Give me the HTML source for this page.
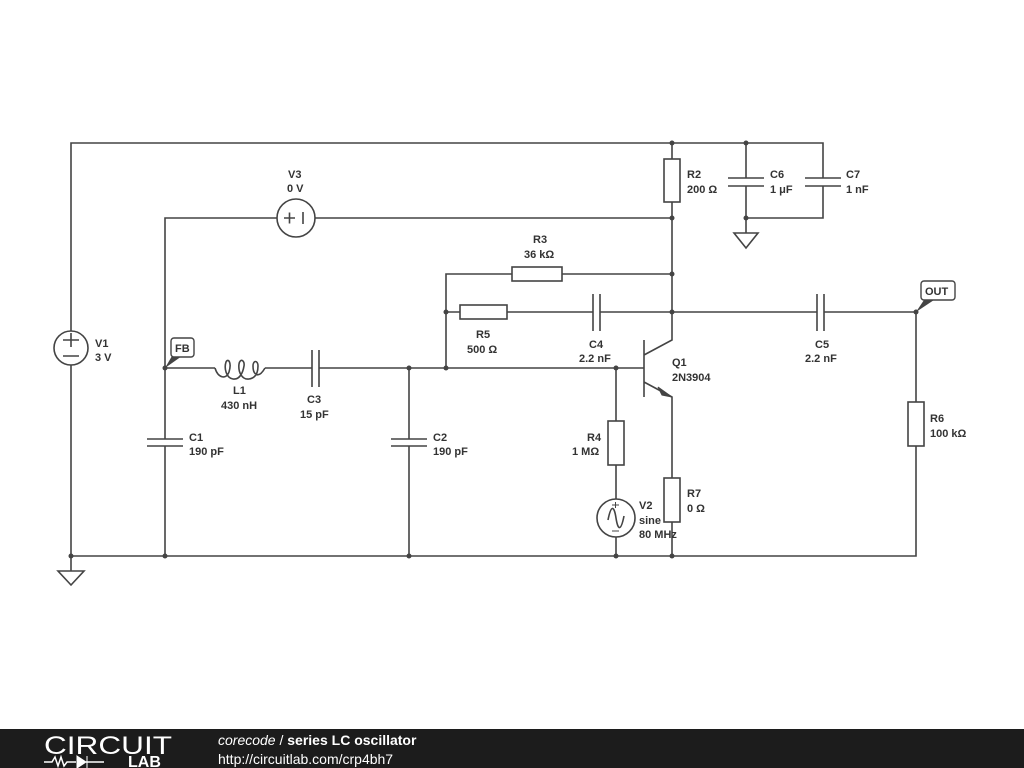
<!DOCTYPE html>
<html><head><meta charset="utf-8"><style>
body{margin:0;width:1024px;height:768px;background:#fff;overflow:hidden}
svg{position:absolute;left:0;top:0}
text{font-family:"Liberation Sans",sans-serif;font-size:11px;font-weight:bold;fill:#333}
</style></head><body>
<svg width="1024" height="768" viewBox="0 0 1024 768">
<g stroke="#444" stroke-width="1.6" fill="none">
<path d="M71 331 V143 H823 V178 M823 186 V218 H746 V186 M746 178 V143"/>
<path d="M728 178 H764 M728 186 H764 M805 178 H841 M805 186 H841"/>
<path d="M746 218 V233 M734 233 H758 L746 248 Z"/>
<circle cx="71" cy="348" r="17"/>
<path d="M71 365 V556 M63 340 H79 M71 333 V347 M63 356 H79"/>
<path d="M71 556 H916 V446 M916 402 V312"/>
<path d="M71 556 V571 M58 571 H84 L71 585 Z"/>
<path d="M165 439 V218 H277 M315 218 H672"/>
<circle cx="296" cy="218" r="19"/>
<path d="M284 218 H295 M289.5 212.5 V223.5 M303 212 V224"/>
<path d="M147 439 H183 M147 446 H183 M165 446 V556"/>
<path d="M165 368 H215 M265 368 H312 M319 368 H644"/>
<path d="M215 368 C218 378 226 380 229 372 C232 362 228 358 226 362 C224 368 226 378 233 379 C240 380 243 372 244 366 C245 360 240 358 239 364 C238 372 242 380 249 379 C256 378 258 372 258 366 C258 360 253 360 253 366 C253 374 258 380 265 368"/>
<path d="M312 350 V387 M319 350 V387"/>
<path d="M409 368 V439 M391 439 H427 M391 446 H427 M409 446 V556"/>
<path d="M446 368 V274 H512 M562 274 H672 M446 312 H460 M507 312 H593 M600 312 H817 M824 312 H916"/>
<rect x="512" y="267" width="50" height="14"/>
<rect x="460" y="305" width="47" height="14"/>
<path d="M593 294 V331 M600 294 V331 M817 294 V331 M824 294 V331"/>
<path d="M672 143 V159 M672 202 V340 L644 355 M644 340 V397 M644 382 L672 397 V478 M672 522 V556"/>
<rect x="664" y="159" width="16" height="43"/>
<rect x="664" y="478" width="16" height="44"/>
<path d="M616 368 V421 M616 465 V499 M616 537 V556"/>
<rect x="608" y="421" width="16" height="44"/>
<circle cx="616" cy="518" r="19"/>
<path d="M608 520 C611 505 614 505 616 518 C618 531 621 531 624 516"/>
<path d="M612 505 H619 M615.5 502 V508 M612 531 H619" stroke-width="1"/>
<rect x="908" y="402" width="16" height="44"/>
</g>
<path d="M672 397 L658 387 L662 395 Z" fill="#444" stroke="#444"/>
<g fill="#444">
<circle cx="165" cy="368" r="2.5"/><circle cx="409" cy="368" r="2.5"/><circle cx="446" cy="368" r="2.5"/><circle cx="446" cy="312" r="2.5"/><circle cx="616" cy="368" r="2.5"/>
<circle cx="672" cy="143" r="2.5"/><circle cx="746" cy="143" r="2.5"/><circle cx="672" cy="218" r="2.5"/><circle cx="746" cy="218" r="2.5"/><circle cx="672" cy="274" r="2.5"/><circle cx="672" cy="312" r="2.5"/><circle cx="916" cy="312" r="2.5"/>
<circle cx="71" cy="556" r="2.5"/><circle cx="165" cy="556" r="2.5"/><circle cx="409" cy="556" r="2.5"/><circle cx="616" cy="556" r="2.5"/><circle cx="672" cy="556" r="2.5"/>
<path d="M165 368 L172 356 L182 356 Z"/><path d="M916 312 L924 300 L934 300 Z"/>
</g>
<rect x="171" y="338" width="23" height="19" rx="3" fill="#fff" stroke="#444" stroke-width="1.4"/>
<text x="175" y="352">FB</text>
<rect x="921" y="281" width="34" height="19" rx="3" fill="#fff" stroke="#444" stroke-width="1.4"/>
<text x="925" y="295">OUT</text>
<text x="95" y="347">V1</text><text x="95" y="361">3 V</text>
<text x="288" y="178">V3</text><text x="287" y="192">0 V</text>
<text x="233" y="394">L1</text><text x="221" y="409">430 nH</text>
<text x="307" y="403">C3</text><text x="300" y="418">15 pF</text>
<text x="189" y="441">C1</text><text x="189" y="455">190 pF</text>
<text x="433" y="441">C2</text><text x="433" y="455">190 pF</text>
<text x="533" y="243">R3</text><text x="524" y="258">36 kΩ</text>
<text x="476" y="338">R5</text><text x="467" y="353">500 Ω</text>
<text x="589" y="348">C4</text><text x="579" y="362">2.2 nF</text>
<text x="672" y="366">Q1</text><text x="672" y="381">2N3904</text>
<text x="815" y="348">C5</text><text x="805" y="362">2.2 nF</text>
<text x="687" y="178">R2</text><text x="687" y="193">200 Ω</text>
<text x="770" y="178">C6</text><text x="770" y="193">1 μF</text>
<text x="846" y="178">C7</text><text x="846" y="193">1 nF</text>
<text x="930" y="422">R6</text><text x="930" y="437">100 kΩ</text>
<text x="587" y="441">R4</text><text x="572" y="455">1 MΩ</text>
<text x="639" y="509">V2</text><text x="639" y="524">sine</text><text x="639" y="538">80 MHz</text>
<text x="687" y="497">R7</text><text x="687" y="512">0 Ω</text>
<rect x="0" y="729" width="1024" height="39" fill="#1c1c1c"/>
<text x="44" y="754" textLength="128" lengthAdjust="spacingAndGlyphs" style="font-size:25px;font-weight:normal;fill:#fff">CIRCUIT</text>
<path d="M44 762 H52 L55 757 L58 766 L61 757 L64 766 L67 762 H76 M86 762 H104" stroke="#fff" stroke-width="1.5" fill="none"/>
<path d="M77 756 L86 762 L77 768 Z M87 756 V768" fill="#fff" stroke="#fff"/>
<text x="128" y="767" style="font-size:16px;fill:#fff">LAB</text>
<text x="218" y="745" style="font-size:14px;font-weight:normal;font-style:italic;fill:#fff">corecode <tspan font-style="normal">/</tspan> <tspan font-weight="bold" font-style="normal">series LC oscillator</tspan></text>
<text x="218" y="764" style="font-size:14px;font-weight:normal;fill:#fff">http://circuitlab.com/crp4bh7</text>
</svg>
</body></html>
